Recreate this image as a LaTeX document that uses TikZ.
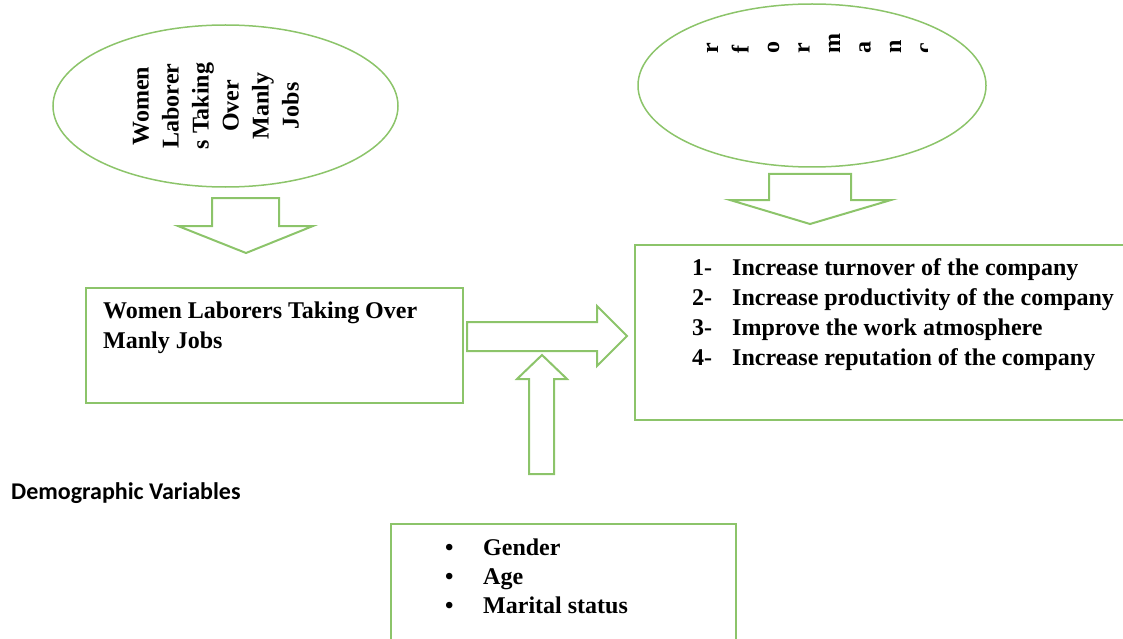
\documentclass[tikz,border=0pt]{standalone}
\usepackage{fontspec}
\setmainfont{Liberation Serif}
\newfontfamily\demofont{Carlito}
\usetikzlibrary{shapes.geometric}
\definecolor{leafgreen}{RGB}{140,196,106}
\tikzset{
  frame/.style={draw=leafgreen, line width=2pt, rectangle, inner sep=0pt, anchor=north west},
  bubble/.style={draw=leafgreen, line width=1.5pt, ellipse, inner sep=0pt},
  blockarrow/.style={draw=leafgreen, line width=2pt, line join=miter},
  boldtext/.style={font=\bfseries\fontsize{24}{30}\selectfont, inner sep=0pt},
  linetext/.style={boldtext, anchor=base west}
}
\begin{document}
\begin{tikzpicture}[x=1pt,y=-1pt]
		\useasboundingbox (0,0) rectangle (1123,639);
		\clip (0,0) rectangle (1123,639);
		\node[bubble, minimum width=345pt, minimum height=162pt] (womenoval) at (225.5,106) {};
		\node[boldtext, rotate=90, align=center] (womentext) at (216,106) {Women\\Laborer\\s Taking\\Over\\Manly\\Jobs};
		\node[bubble, minimum width=348pt, minimum height=163pt] (perfoval) at (812,85.5) {};
		\begin{scope}
		\clip (700,20) rectangle (927,70);
		\foreach \l [count=\i] in {r,f,o,r,m,a,n,c}
		\node[boldtext, rotate=90, anchor=base west] (perf\i) at (718+30.5*\i-30.5, 54) {\l};
		\end{scope}
		\draw[blockarrow] (212,198) -- (279,198) -- (279,226) -- (313,226) -- (246,253) -- (178,226) -- (212,226) -- cycle;
		\draw[blockarrow] (769,174) -- (851,174) -- (851,200) -- (891,200) -- (810,224) -- (730,200) -- (769,200) -- cycle;
		\node[frame, minimum width=377pt, minimum height=115pt] (jobbox) at (85,287) {};
		\foreach \t [count=\i] in {Women Laborers Taking Over, Manly Jobs}
		\node[linetext] (jobline\i) at (103, 288+30*\i) {\t};
		\node[frame, minimum width=520pt, minimum height=175pt] (gainbox) at (634,244) {};
		\foreach \t [count=\i] in {Increase turnover of the company, Increase productivity of the company, Improve the work atmosphere, Increase reputation of the company}
		{
		\node[linetext] (num\i) at (692, 245+30*\i) {\i-};
		\node[linetext] (gain\i) at (732, 245+30*\i) {\t};
		}
		\draw[blockarrow] (467,322) -- (597,322) -- (597,306) -- (627,336) -- (597,366) -- (597,351) -- (467,351) -- cycle;
		\draw[blockarrow] (529,474) -- (529,379) -- (517,379) -- (542,355) -- (567,379) -- (554,379) -- (554,474) -- cycle;
		\node[anchor=base west, inner sep=0pt, font=\demofont\bfseries\fontsize{24}{28}\selectfont] (demo) at (11,499) {Demographic Variables};
		\node[frame, minimum width=345pt, minimum height=140pt] (demobox) at (390,523) {};
		\foreach \t [count=\i] in {Gender, Age, Marital status}
		{
		\node[linetext] (dot\i) at (445, 526+29*\i) {\textbullet};
		\node[linetext] (demo\i) at (483, 526+29*\i) {\t};
		}
	    \end{tikzpicture}
\end{document}
